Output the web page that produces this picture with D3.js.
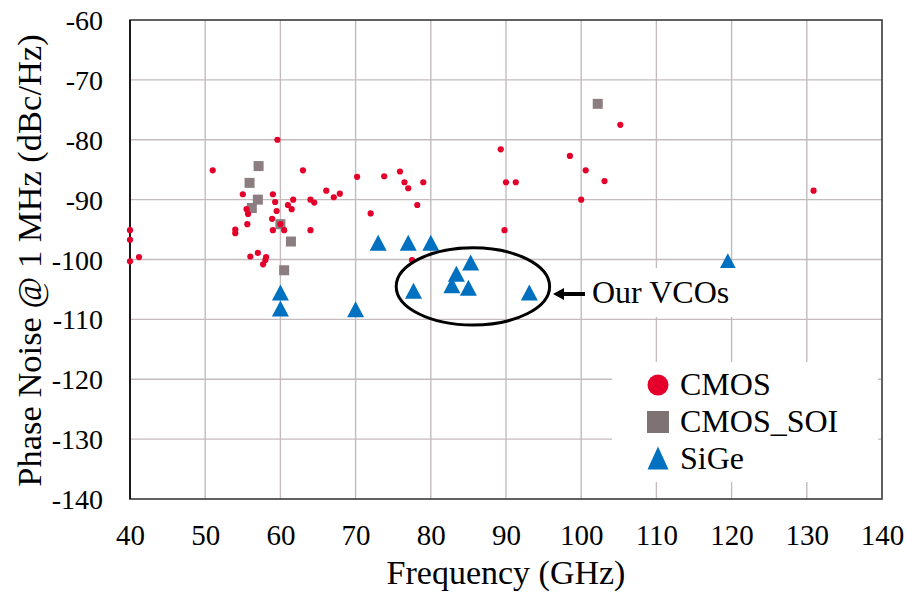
<!DOCTYPE html>
<html>
<head>
<meta charset="utf-8">
<script src="https://cdn.jsdelivr.net/npm/d3@7"></script>
<style>
  html, body { margin: 0; padding: 0; background: #fff; }
  svg { display: block; }
  svg text { font-family: "Liberation Serif", "Times New Roman", Times, "DejaVu Serif", serif !important; }
</style>
</head>
<body>
<svg id="chart" width="907" height="596"></svg>
<script>
// Phase noise at 1 MHz offset versus oscillation frequency, by technology
const cmosFreq = [40.0, 40.0, 40.0, 41.2, 51.0, 54.0, 54.0, 55.0, 55.5, 55.7, 55.6, 56.0, 57.0, 58.1,
  58.0, 57.7, 59.0, 59.3, 59.5, 58.9, 59.6, 60.0, 59.0, 60.5, 61.0, 61.5, 61.7, 63.0, 64.0, 64.5,
  64.0, 66.1, 67.1, 67.9, 70.2, 72.0, 73.8, 75.9, 76.5, 77.0, 77.5, 78.2, 79.0, 89.3, 89.8, 90.0,
  91.3, 98.5, 100.0, 100.6, 103.1, 105.2, 130.9];
const cmosPN = [-95.1, -96.7, -100.3, -99.6, -85.1, -95.0, -95.6, -89.1, -91.6, -92.4, -94.1, -99.5, -98.9, -99.6,
  -100.1, -100.8, -89.1, -90.4, -91.9, -93.2, -80.0, -94.1, -95.1, -95.1, -90.9, -91.6, -90.0, -85.1, -90.0, -90.5,
  -95.1, -88.5, -89.6, -89.0, -86.2, -92.3, -86.1, -85.3, -87.1, -88.1, -100.1, -90.9, -87.1, -81.6, -95.1, -87.1,
  -87.1, -82.7, -90.0, -85.1, -86.9, -77.5, -88.5];

const soiFreq = [57.1, 55.9, 57.0, 56.2, 60.0, 61.4, 60.5, 102.2];
const soiPN   = [-84.4, -87.2, -90.0, -91.4, -94.1, -97.0, -101.8, -74.0];

const sigeFreq = [60.0, 60.0, 70.0, 73.0, 77.0, 80.0, 77.7, 82.8, 83.4, 85.0, 85.3, 93.1, 119.5];
const sigePN   = [-105.5, -108.2, -108.3, -97.2, -97.2, -97.2, -105.2, -104.3, -102.4, -104.7, -100.5, -105.5, -100.3];

const xTicks = [40, 50, 60, 70, 80, 90, 100, 110, 120, 130, 140];
const yTicks = [-60, -70, -80, -90, -100, -110, -120, -130, -140];
const seriesNames = ["CMOS", "CMOS_SOI", "SiGe"];

// Highlight ring around this work's oscillators (data units)
const ringCenter = [85.6, -104.5];
const ringRadius = [10.2, 6.45];
const calloutText = "Our VCOs";

const colors = { CMOS: "#e4002b", CMOS_SOI: "#8b7d80", SiGe: "#0070c0" };
const serif = '"Liberation Serif", "Times New Roman", Times, "DejaVu Serif", serif';

const svg = d3.select("#chart");
const plot = { left: 130, right: 882, top: 20, bottom: 499 };

const x = d3.scaleLinear().domain([40, 140]).range([plot.left, plot.right]);
const y = d3.scaleLinear().domain([-140, -60]).range([plot.bottom, plot.top]);

// Gridlines
const grid = svg.append("g");
grid.selectAll("line.v").data(xTicks.slice(1, -1)).join("line")
  .attr("x1", d => x(d)).attr("x2", d => x(d))
  .attr("y1", plot.top).attr("y2", plot.bottom)
  .attr("stroke", "#c4bcbc").attr("stroke-width", 1.4);
grid.selectAll("line.h").data(yTicks.slice(1, -1)).join("line")
  .attr("x1", plot.left).attr("x2", plot.right)
  .attr("y1", d => y(d)).attr("y2", d => y(d))
  .attr("stroke", "#c4bcbc").attr("stroke-width", 1.4);

// Axes (labels only, no tick marks)
const xAxis = d3.axisBottom(x).tickValues(xTicks).tickSize(0).tickPadding(0).tickFormat(d3.format("d"));
const gx = svg.append("g").attr("transform", `translate(0,${plot.bottom})`).call(xAxis)
  .attr("font-family", null).attr("font-size", null);
gx.select(".domain").remove();
gx.selectAll("text").attr("y", 46).attr("dy", null)
  .style("font-family", serif).style("font-size", "29px").attr("fill", "#000");

const yAxis = d3.axisLeft(y).tickValues(yTicks).tickSize(0).tickPadding(0).tickFormat(d3.format("d"));
const gy = svg.append("g").attr("transform", `translate(${plot.left},0)`).call(yAxis)
  .attr("font-family", null).attr("font-size", null);
gy.select(".domain").remove();
gy.selectAll("text").attr("x", -27).attr("dy", "0.34em")
  .style("font-family", serif).style("font-size", "28px").attr("fill", "#000")
  .text(d => String(d).replace("\u2212", "-"));

// Plot frame
svg.append("rect")
  .attr("x", plot.left).attr("y", plot.top)
  .attr("width", plot.right - plot.left).attr("height", plot.bottom - plot.top)
  .attr("fill", "none").attr("stroke", "#3a3a3a").attr("stroke-width", 1.6);
svg.append("line")
  .attr("x1", plot.left).attr("x2", plot.left).attr("y1", plot.top).attr("y2", plot.bottom)
  .attr("stroke", "#1a1a1a").attr("stroke-width", 2);

// Axis titles
svg.append("text")
  .attr("x", (plot.left + plot.right) / 2).attr("y", 584)
  .attr("text-anchor", "middle").style("font-family", serif).style("font-size", "34px").attr("fill", "#000")
  .text("Frequency (GHz)");
svg.append("text")
  .attr("transform", `translate(41,${(plot.top + plot.bottom) / 2 + 1}) rotate(-90)`)
  .attr("text-anchor", "middle").style("font-family", serif).style("font-size", "34.5px").attr("fill", "#000")
  .text("Phase Noise @ 1 MHz (dBc/Hz)");

// Markers
const triPath = (w, h) => `M0,${-h / 2}L${w / 2},${h / 2}L${-w / 2},${h / 2}Z`;

const soi = soiFreq.map((f, i) => ({ f, v: soiPN[i] }));
const sige = sigeFreq.map((f, i) => ({ f, v: sigePN[i] }));
const cmos = cmosFreq.map((f, i) => ({ f, v: cmosPN[i] }));

svg.append("g").selectAll("rect").data(soi).join("rect")
  .attr("x", d => x(d.f) - 5).attr("y", d => y(d.v) - 5)
  .attr("width", 10).attr("height", 10)
  .attr("fill", colors.CMOS_SOI);

svg.append("g").selectAll("path").data(sige).join("path")
  .attr("transform", d => `translate(${x(d.f)},${y(d.v)})`)
  .attr("d", triPath(17, 16))
  .attr("fill", colors.SiGe);

svg.append("g").selectAll("circle").data(cmos).join("circle")
  .attr("cx", d => x(d.f)).attr("cy", d => y(d.v)).attr("r", 3.1)
  .attr("fill", colors.CMOS);

// Highlight ring and callout
const cx = x(ringCenter[0]), cy = y(ringCenter[1]);
const rx = x(ringCenter[0] + ringRadius[0]) - cx;
const ry = y(ringCenter[1] - ringRadius[1]) - cy;
svg.append("ellipse")
  .attr("cx", cx).attr("cy", cy).attr("rx", rx).attr("ry", ry)
  .attr("fill", "none").attr("stroke", "#000").attr("stroke-width", 3);

const callout = svg.append("g");
callout.append("rect")
  .attr("x", 587).attr("y", 268).attr("width", 152).attr("height", 49)
  .attr("fill", "#fff");
callout.append("line")
  .attr("x1", 562).attr("x2", 585).attr("y1", 294).attr("y2", 294)
  .attr("stroke", "#000").attr("stroke-width", 4);
callout.append("path")
  .attr("d", "M553,294L564,288L564,300Z").attr("fill", "#000");
callout.append("text")
  .attr("x", 592).attr("y", 303).style("font-family", serif).style("font-size", "32px").attr("fill", "#000")
  .text(calloutText);

// Legend
const legend = svg.append("g");
legend.append("rect")
  .attr("x", 612).attr("y", 362).attr("width", 266).attr("height", 120)
  .attr("fill", "#fff");
const rows = legend.selectAll("g").data(seriesNames).join("g")
  .attr("transform", (d, i) => `translate(658,${385 + i * 37})`);
rows.each(function (d) {
  const g = d3.select(this);
  if (d === "CMOS") {
    g.append("circle").attr("r", 10.5).attr("fill", colors.CMOS);
  } else if (d === "CMOS_SOI") {
    g.append("rect").attr("x", -11).attr("y", -11).attr("width", 22).attr("height", 22).attr("fill", "#7f7272");
  } else {
    g.append("path").attr("transform", "translate(0,-1)").attr("d", triPath(21, 23)).attr("fill", colors.SiGe);
  }
  g.append("text").attr("x", 22).attr("y", 10).style("font-family", serif).style("font-size", "32px")
    .attr("fill", "#000").text(d);
});
</script>
</body>
</html>
